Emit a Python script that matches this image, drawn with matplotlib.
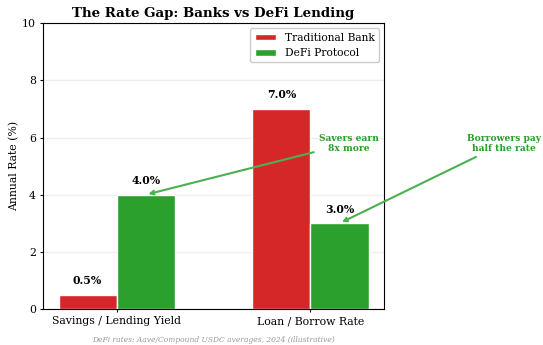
import matplotlib.pyplot as plt
import numpy as np

plt.rcParams['font.family'] = 'DejaVu Serif'

# data
categories = ['Savings / Lending Yield', 'Loan / Borrow Rate']
bank_rates = [0.5, 7.0]
defi_rates = [4.0, 3.0]
series_names = ['Traditional Bank', 'DeFi Protocol']
red = '#d62728'
green = '#2ca02c'

fig = plt.figure(figsize=(5.43, 3.45), dpi=100)
ax = fig.add_axes([0.0792, 0.104, 0.628, 0.829])

x = np.arange(len(categories))
w = 0.3
b1 = ax.bar(x - w / 2, bank_rates, w, color=red, edgecolor='white', linewidth=1, label=series_names[0])
b2 = ax.bar(x + w / 2, defi_rates, w, color=green, edgecolor='white', linewidth=1, label=series_names[1])

# value labels above the bars
for bars, vals in [(b1, bank_rates), (b2, defi_rates)]:
    for rect, v in zip(bars, vals):
        ax.text(rect.get_x() + rect.get_width() / 2, v + 0.3, f'{v:.1f}%',
                ha='center', va='bottom', fontsize=7.8, fontweight='bold')

ax.set_ylim(0, 10)
ax.set_xticks(x)
ax.set_xticklabels(categories, fontsize=7.8)
ax.tick_params(axis='both', labelsize=7.8, length=2.5, pad=2.5)
ax.set_ylabel('Annual Rate (%)', fontsize=7.8, labelpad=2)
ax.set_title('The Rate Gap: Banks vs DeFi Lending', fontsize=9.6, fontweight='bold', pad=4.5)
ax.yaxis.grid(True, color='#eeeeee', linewidth=1)
ax.set_axisbelow(True)
ax.legend(loc='upper right', fontsize=7.7, framealpha=1, handleheight=0.6)

# annotations
arrow = dict(arrowstyle='->', color='#4caf50', lw=1.5)
ax.annotate('Savers earn\n8x more', xy=(0.15, 4.0), xytext=(1.2, 5.8),
            ha='center', va='center', fontsize=6.6, fontweight='bold', color=green,
            arrowprops=arrow, annotation_clip=False)
ax.annotate('Borrowers pay\nhalf the rate', xy=(1.15, 3.0), xytext=(2.0, 5.8),
            ha='center', va='center', fontsize=6.6, fontweight='bold', color=green,
            arrowprops=arrow, annotation_clip=False)

fig.text(0.393, 0.0145, 'DeFi rates: Aave/Compound USDC averages, 2024 (illustrative)',
         ha='center', va='center', fontsize=5.4, style='italic', color='#999999')

fig.savefig('out.png', dpi=100)
